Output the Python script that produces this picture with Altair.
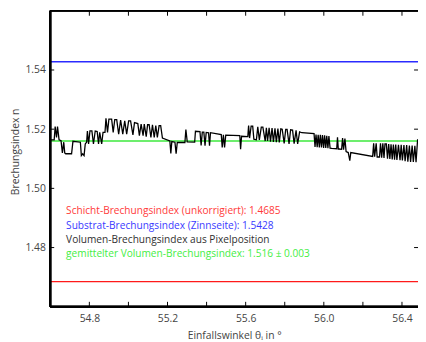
import altair as alt
import pandas as pd

# Measured volume refractive index vs. angle of incidence
angle = [
    54.600, 54.620, 54.625, 54.632, 54.637, 54.645, 54.655, 54.662, 54.669, 54.674,
    54.679, 54.709, 54.716, 54.754, 54.759, 54.766, 54.773, 54.779, 54.786, 54.790,
    54.796, 54.803, 54.813, 54.821, 54.830, 54.840, 54.847, 54.853, 54.863, 54.870,
    54.880,
    54.885, 54.893, 54.900, 54.914, 54.922, 54.930, 54.940, 54.950, 54.960, 54.971,
    54.981, 54.991, 55.001, 55.011, 55.023, 55.031, 55.048, 55.056, 55.065, 55.075,
    55.081, 55.091, 55.098, 55.106, 55.115, 55.123, 55.132, 55.140, 55.148, 55.157,
    55.165, 55.174,
    55.212, 55.217, 55.222, 55.238, 55.244, 55.250, 55.289, 55.294, 55.301, 55.339,
    55.343, 55.366, 55.372, 55.378, 55.386, 55.392, 55.398, 55.410, 55.415, 55.420,
    55.475, 55.480, 55.486, 55.492, 55.498, 55.570, 55.574, 55.579, 55.611,
    55.615, 55.620, 55.628, 55.636, 55.642, 55.655, 55.662, 55.670, 55.680, 55.688,
    55.700, 55.706, 55.712, 55.720, 55.727, 55.735, 55.742, 55.750, 55.757, 55.765,
    55.772, 55.780, 55.787, 55.797, 55.805, 55.812, 55.822, 55.830, 55.840, 55.848,
    55.858, 55.866, 55.876, 55.888,
    55.950, 55.955, 55.960, 55.966, 55.971, 55.977, 55.982, 55.988, 55.993, 55.999,
    56.004, 56.010, 56.015, 56.021, 56.026, 56.032, 56.041, 56.066, 56.070, 56.074,
    56.078, 56.091, 56.096, 56.101, 56.108, 56.114, 56.125, 56.133, 56.138, 56.250,
    56.255, 56.260, 56.268, 56.273, 56.285, 56.290, 56.296, 56.302, 56.308, 56.313,
    56.320, 56.326, 56.332, 56.338, 56.344, 56.350, 56.356, 56.362, 56.368, 56.374,
    56.382, 56.390, 56.396, 56.402, 56.410, 56.416, 56.424, 56.430, 56.438, 56.444,
    56.452, 56.458, 56.466, 56.472, 56.480,
]
n_volume = [
    1.5164, 1.5164, 1.5209, 1.5172, 1.5209, 1.5164, 1.5161, 1.5120, 1.5156, 1.5120,
    1.5117, 1.5117, 1.5159, 1.5156, 1.5111, 1.5117, 1.5111, 1.5150, 1.5156, 1.5194,
    1.5150, 1.5194, 1.5194, 1.5150, 1.5194, 1.5192, 1.5150, 1.5189, 1.5150, 1.5189,
    1.5189,
    1.5237, 1.5189, 1.5234, 1.5234, 1.5189, 1.5232, 1.5232, 1.5183, 1.5231, 1.5183,
    1.5228, 1.5183, 1.5228, 1.5228, 1.5181, 1.5222, 1.5219, 1.5178, 1.5217, 1.5178,
    1.5217, 1.5175, 1.5215, 1.5215, 1.5172, 1.5215, 1.5172, 1.5212, 1.5172, 1.5212,
    1.5212, 1.5170,
    1.5160, 1.5118, 1.5158, 1.5156, 1.5117, 1.5155, 1.5155, 1.5199, 1.5157, 1.5156,
    1.5193, 1.5192, 1.5145, 1.5190, 1.5190, 1.5144, 1.5189, 1.5188, 1.5144, 1.5188,
    1.5182, 1.5138, 1.5181, 1.5138, 1.5180, 1.5178, 1.5132, 1.5176, 1.5175,
    1.5212, 1.5170, 1.5210, 1.5210, 1.5166, 1.5164, 1.5208, 1.5164, 1.5207, 1.5207,
    1.5160, 1.5205, 1.5160, 1.5205, 1.5158, 1.5204, 1.5157, 1.5203, 1.5156, 1.5202,
    1.5155, 1.5201, 1.5200, 1.5152, 1.5199, 1.5199, 1.5150, 1.5198, 1.5197, 1.5151,
    1.5196, 1.5150, 1.5191, 1.5188,
    1.5185, 1.5140, 1.5182, 1.5139, 1.5181, 1.5138, 1.5181, 1.5138, 1.5180, 1.5137,
    1.5179, 1.5137, 1.5178, 1.5136, 1.5177, 1.5136, 1.5135, 1.5134, 1.5173, 1.5133,
    1.5133, 1.5132, 1.5170, 1.5131, 1.5168, 1.5124, 1.5121, 1.5094, 1.5121, 1.5108,
    1.5152, 1.5107, 1.5152, 1.5106, 1.5106, 1.5152, 1.5104, 1.5152, 1.5103, 1.5150,
    1.5150, 1.5100, 1.5150, 1.5099, 1.5149, 1.5098, 1.5148, 1.5097, 1.5148, 1.5096,
    1.5147, 1.5095, 1.5147, 1.5094, 1.5146, 1.5092, 1.5146, 1.5090, 1.5145, 1.5089,
    1.5145, 1.5089, 1.5144, 1.5088, 1.5166,
]

# Reference lines
ref_names = ["Schicht", "Substrat", "Mittel"]
ref_values = [1.4685, 1.5428, 1.516]
ref_colors = ["#ff1a1a", "#2b2bff", "#3ce83c"]

# Legend texts
legend_texts = [
    "Schicht-Brechungsindex (unkorrigiert): 1.4685",
    "Substrat-Brechungsindex (Zinnseite): 1.5428",
    "Volumen-Brechungsindex aus Pixelposition",
    "gemittelter Volumen-Brechungsindex: 1.516 \u00b1 0.003",
]
legend_colors = ["#ff3a3a", "#3a3aff", "#303030", "#44ee44"]
legend_y = [1.4923, 1.4873, 1.4826, 1.4779]
legend_x = [54.681, 54.681, 54.681, 54.681]

x_major = [54.8, 55.2, 55.6, 56.0, 56.4]
x_ticks = [54.8, 55.0, 55.2, 55.4, 55.6, 55.8, 56.0, 56.2, 56.4]
y_ticks = [1.48, 1.50, 1.52, 1.54]

W, H = 374, 301
xs = alt.Scale(domain=[54.6, 56.482], nice=False, zero=False)
ys = alt.Scale(domain=[1.46, 1.56], nice=False, zero=False)

df_line = pd.DataFrame({"angle": angle, "n": n_volume})
df_ref = pd.DataFrame({"name": ref_names, "n": ref_values, "color": ref_colors})
df_leg = pd.DataFrame({"text": legend_texts, "color": legend_colors, "x": legend_x, "y": legend_y})
df_xt = pd.DataFrame({"t": x_ticks})
df_yt = pd.DataFrame({"t": y_ticks})

base_x = alt.X("angle:Q", scale=xs,
               axis=alt.Axis(values=x_major, format=".1f", ticks=False, domain=False, grid=False,
                             labelPadding=7, title="Einfallswinkel \u03b8\u1d62 in \u00b0", titlePadding=7))
base_y = alt.Y("n:Q", scale=ys,
               axis=alt.Axis(values=y_ticks, format=".2f", ticks=False, domain=False, grid=False,
                             labelPadding=5, title="Brechungsindex n", titleX=-35, titleY=143,
                             titleBaseline="middle"))

line = alt.Chart(df_line).mark_line(color="black", strokeWidth=1.3, clip=True).encode(x=base_x, y=base_y)

refs = alt.Chart(df_ref).mark_rule(strokeWidth=1.4).encode(
    y=alt.Y("n:Q", scale=ys), color=alt.Color("color:N", scale=None))

texts = alt.Chart(df_leg).mark_text(align="left", baseline="middle", fontSize=10.3, font="Open Sans").encode(
    x=alt.X("x:Q", scale=xs), y=alt.Y("y:Q", scale=ys), text="text:N", color=alt.Color("color:N", scale=None))

tick_bottom = alt.Chart(df_xt).mark_rule(color="black", strokeWidth=1).encode(
    x=alt.X("t:Q", scale=xs), y=alt.value(H), y2=alt.value(H - 5))
tick_top = alt.Chart(df_xt).mark_rule(color="black", strokeWidth=1).encode(
    x=alt.X("t:Q", scale=xs), y=alt.value(0), y2=alt.value(5))
tick_left = alt.Chart(df_yt).mark_rule(color="black", strokeWidth=1).encode(
    y=alt.Y("t:Q", scale=ys), x=alt.value(0), x2=alt.value(4))
tick_right = alt.Chart(df_yt).mark_rule(color="black", strokeWidth=1).encode(
    y=alt.Y("t:Q", scale=ys), x=alt.value(W), x2=alt.value(W - 4))

frame_left = alt.Chart(df_yt).mark_rule(color="black", strokeWidth=2).encode(
    x=alt.value(0), y=alt.value(0), y2=alt.value(H))
frame_bottom = alt.Chart(df_yt).mark_rule(color="black", strokeWidth=2).encode(
    y=alt.value(H), x=alt.value(0), x2=alt.value(W))
frame_top = alt.Chart(df_yt).mark_rule(color="black", strokeWidth=1.5).encode(
    y=alt.value(0), x=alt.value(0), x2=alt.value(W))

chart = alt.layer(
    refs, line, texts, tick_bottom, tick_top, tick_left, tick_right,
    frame_left, frame_bottom, frame_top,
).properties(
    width=W, height=H, autosize="none",
    padding={"left": 43, "top": 0, "right": 0, "bottom": 33},
).configure_view(stroke=None).configure_axis(
    labelFont="Open Sans", titleFont="Open Sans", labelFontSize=10.5, titleFontSize=10.5,
    labelColor="#444444", titleColor="#444444", titleFontWeight="normal",
)

chart.save("out.html", embed_options={"renderer": "svg", "actions": False})
